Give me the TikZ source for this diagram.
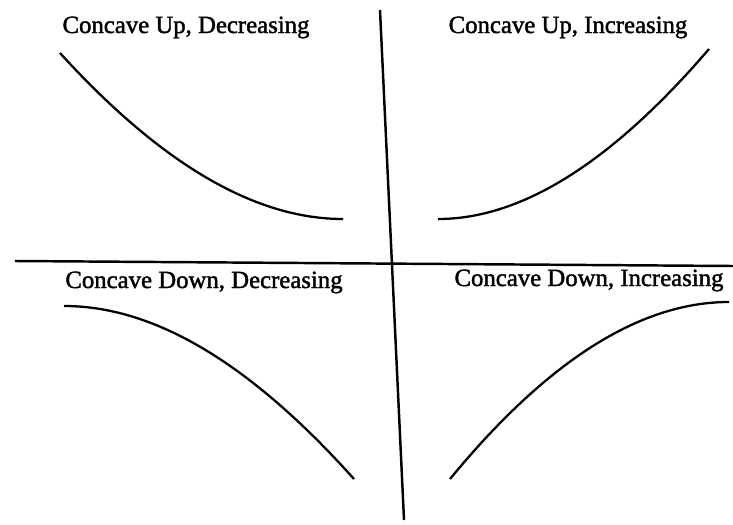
\documentclass[tikz,border=0pt]{standalone}
\usepackage{fontspec}
\setmainfont{Liberation Serif}
\newfontfamily\heavyfont[RawFeature={embolden=1.6}]{Liberation Serif}
\usetikzlibrary{calc, positioning}

\tikzset{
  axis/.style={line width=1.4pt},
  curve/.style={line width=1.3pt},
  lbl/.style={font=\heavyfont\fontsize{14.1}{17}\selectfont, inner sep=0pt, anchor=base}
}

\begin{document}
\begin{tikzpicture}[x=0.02cm, y=-0.02cm]
\useasboundingbox (0, 0) rectangle (733, 524);

% axes
\coordinate (T) at (380, 10);
\coordinate (B) at (404, 520);
\coordinate (L) at (15, 261);
\coordinate (R) at (733, 266);
\draw[axis] (T) -- (B);
\draw[axis] (L) -- (R);

% curve ends
\foreach \p/\x/\y in {UDa/60/53, UDb/343/219, UIa/438/219, UIb/709/49,
                      DDa/64/306, DDb/354/479, DIa/450/479, DIb/729/302} {
  \coordinate (\p) at (\x, \y);
}

\draw[curve] (UDa) .. controls (161, 164) and (255, 219) .. (UDb);
\draw[curve] (UIa) .. controls (522, 219) and (612, 162) .. (UIb);
\draw[curve] (DDa) .. controls (155, 306) and (251, 364) .. (DDb);
\draw[curve] (DIa) .. controls (547, 361) and (640, 302) .. (DIb);

\node[lbl] (ud) at (186, 33) {Concave Up, Decreasing};
\node[lbl] (ui) at (568, 33) {Concave Up, Increasing};
\node[lbl] (dd) at (204, 288) {Concave Down, Decreasing};
\node[lbl] (di) at (589, 286) {Concave Down, Increasing};
\end{tikzpicture}
\end{document}
